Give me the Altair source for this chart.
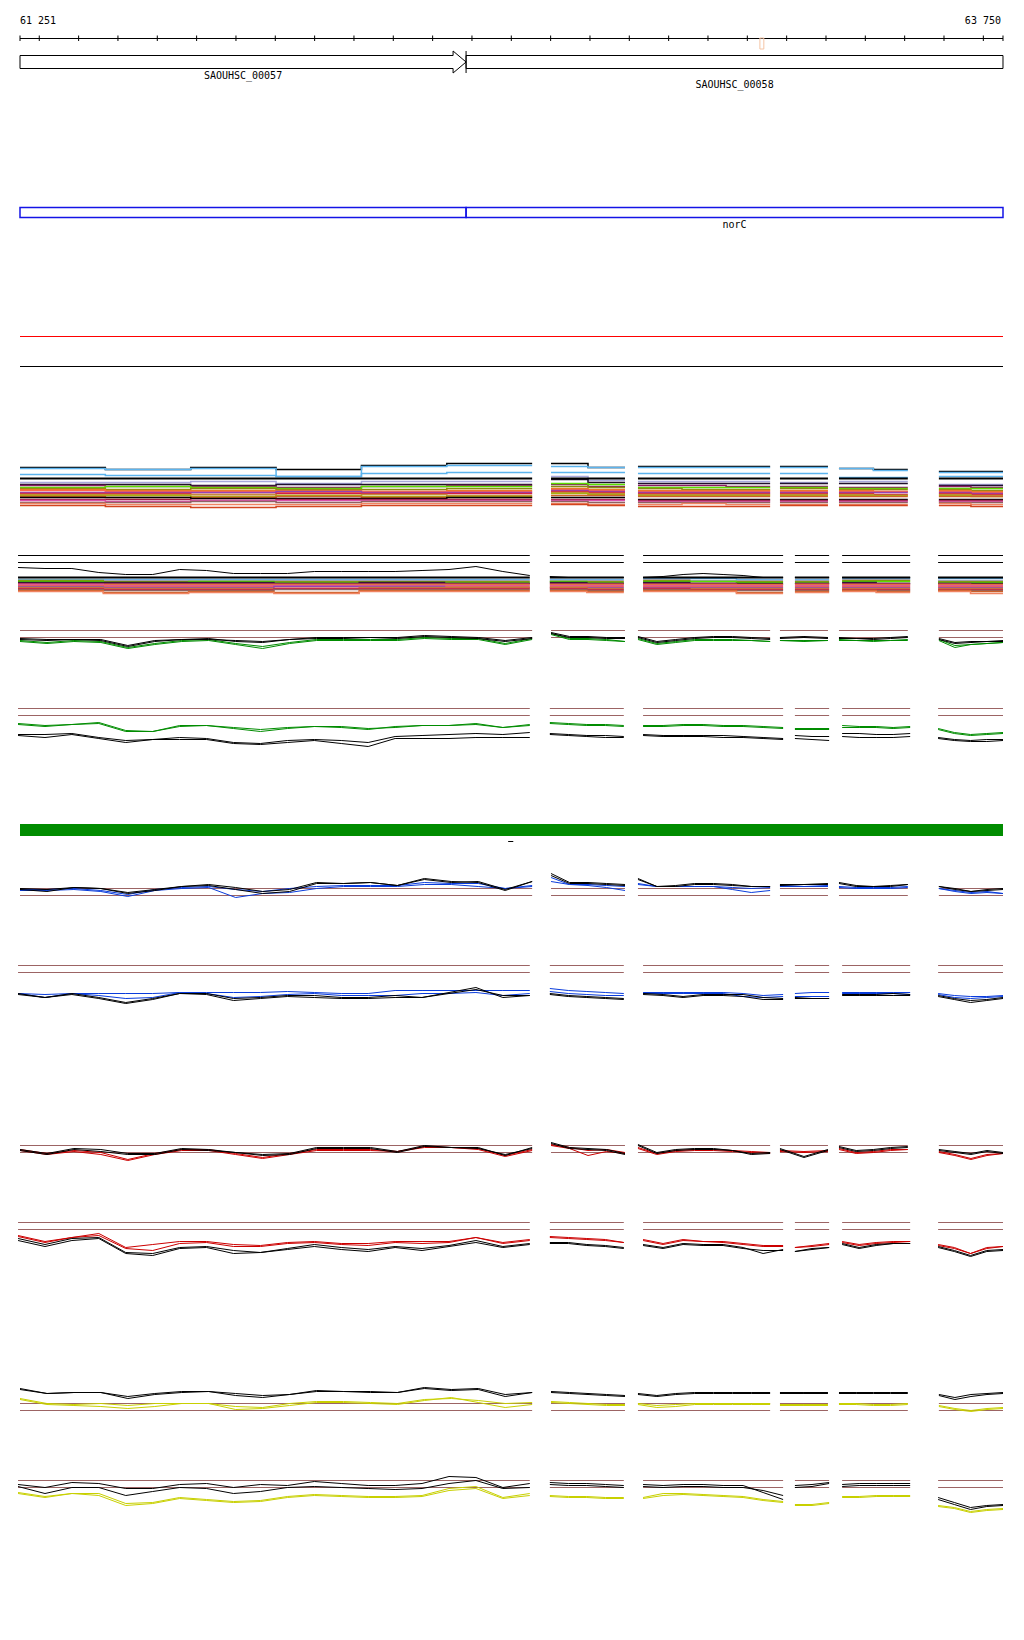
import altair as alt
import numpy as np
import pandas as pd

# ------------------------------------------------------------------ data
VIEW = [61251, 63750]
RULER_TICKS = [61251] + list(range(61300, 63750, 100)) + [63750]

GENE_NAME = ["SAOUHSC_00057", "SAOUHSC_00058"]
GENE_START = [61251, 62385]
GENE_END = [62385, 63750]

NORC_NAME = "norC"
NORC_START = [61251, 62385]
NORC_END = [62385, 63750]

MARKER = [63132, 63142]
DASH = [62492, 62505]

# covered segments (two alternating layouts)
SEG_ODD = [(61251, 62553), (62601, 62789), (62822, 63158), (63183, 63305), (63333, 63508), (63587, 63750)]
SEG_EVEN = [(61246, 62547), (62598, 62786), (62835, 63191), (63221, 63308), (63341, 63514), (63585, 63750)]
N_LINE = [20, 5, 8, 3, 5, 5]
N_STEP = [6, 2, 3, 1, 2, 2]
THRESHOLDS = [0, 7]

# ---- profile tracks (values relative to the lower threshold)
P2_CURVE = [-5,-6,-6,-10,-12,-12,-7,-8,-11,-11,-11,-9,-9,-9,-9,-8,-7,-4,-9,-13,  -14,-15,-15,-15,-15,  -15,-14,-12,-11,-12,-13,-15,-15,  -15,-15,-15,  -15,-15,-15,-15,-15,  -15,-15,-15,-15,-15]

P3_K1 = [-1,-2,-2,-2,-8,-3,-2,-2,-3,-4,-2,0,0,0,0,2,1,0,-3,0,  5,1,1,0,0,  1,-4,-2,0,1,1,0,-1,  0,1,0,  0,-1,-1,0,1,  -1,-5,-4,-4,-3]
P3_K2 = [-2,-3,-2,-3,-9,-4,-2,-1,-4,-5,-2,-1,-1,0,-1,1,0,-1,-4,-1,  4,0,0,-1,-1,  0,-5,-3,-1,0,0,-1,-2,  -1,0,-1,  -1,-1,-2,-1,0,  -2,-6,-5,-4,-4]
P3_C1 = [-3,-5,-3,-4,-10,-6,-3,-2,-6,-9,-5,-2,-2,-2,-2,0,-1,-1,-6,-1,  4,-1,-1,-2,-4,  -1,-6,-4,-2,-2,-2,-3,-4,  -3,-3,-3,  -2,-3,-3,-3,-2,  -2,-8,-7,-6,-5]
P3_C2 = [-4,-6,-4,-5,-11,-7,-4,-3,-7,-11,-6,-3,-3,-3,-3,-1,-2,-2,-7,-2,  3,-2,-2,-3,-4,  -2,-7,-5,-3,-3,-3,-3,-4,  -3,-4,-3,  -3,-3,-4,-3,-3,  -3,-10,-7,-6,-5]

P4_C1 = [-8,-10,-9,-7,-15,-16,-10,-10,-12,-14,-12,-11,-11,-13,-12,-10,-10,-8,-12,-10,  -7,-8,-9,-9,-10,  -10,-10,-9,-9,-10,-10,-11,-12,  -13,-13,-13,  -10,-11,-11,-12,-11,  -13,-17,-19,-18,-17]
P4_C2 = [-9,-11,-9,-8,-16,-16,-11,-10,-13,-16,-13,-11,-12,-14,-11,-10,-10,-9,-12,-9,  -8,-9,-10,-10,-11,  -11,-11,-10,-10,-11,-11,-12,-13,  -14,-14,-14,  -12,-12,-12,-13,-12,  -14,-18,-20,-19,-18]
P4_K1 = [-19,-19,-18,-22,-25,-24,-22,-23,-27,-28,-25,-24,-25,-27,-21,-20,-19,-18,-19,-17,  -18,-19,-20,-20,-21,  -19,-20,-20,-20,-20,-21,-22,-23,  -20,-21,-21,  -18,-18,-19,-19,-18,  -22,-24,-25,-24,-24]
P4_K2 = [-20,-22,-19,-23,-27,-24,-24,-24,-28,-29,-27,-25,-28,-31,-23,-23,-23,-22,-22,-22,  -19,-20,-21,-22,-22,  -20,-21,-21,-21,-22,-22,-23,-24,  -23,-24,-25,  -21,-22,-22,-22,-21,  -23,-25,-26,-26,-25]

P5_K1 = [7,6,8,7,3,6,9,11,8,4,6,13,12,13,10,16,13,14,6,14,  22,13,13,12,11,  17,9,10,12,12,11,9,9,  11,11,12,  13,10,9,10,11,  9,7,4,6,7]
P5_K2 = [6,4,8,7,2,5,9,10,6,2,4,12,12,13,10,17,14,13,5,14,  20,12,12,11,10,  16,9,9,11,11,10,9,9,  10,11,11,  12,9,9,9,11,  9,6,4,5,6]
P5_B1 = [6,6,7,5,1,6,8,9,6,4,7,9,10,10,10,13,12,12,7,9,  14,11,11,10,9,  12,9,9,9,9,8,7,8,  10,9,10,  9,8,8,8,9,  7,5,3,4,2]
P5_B2 = [5,5,6,4,-1,5,7,8,-2,2,3,7,9,9,9,11,11,9,7,10,  18,11,10,8,5,  11,9,9,9,9,6,3,5,  9,9,9,  8,7,7,7,8,  7,4,2,3,2]

P6_B1 = [-21,-22,-21,-21,-21,-21,-20,-20,-20,-20,-19,-20,-21,-21,-18,-18,-18,-18,-18,-18,  -16,-18,-19,-20,-21,  -20,-20,-20,-20,-20,-21,-23,-22,  -21,-20,-20,  -20,-20,-20,-20,-20,  -21,-23,-24,-24,-23]
P6_B2 = [-21,-25,-21,-23,-26,-25,-20,-21,-25,-24,-22,-21,-23,-23,-23,-21,-21,-20,-23,-21,  -19,-21,-22,-23,-23,  -21,-21,-21,-21,-21,-24,-25,-24,  -24,-24,-24,  -21,-21,-21,-21,-22,  -22,-25,-26,-25,-24]
P6_K1 = [-21,-25,-21,-25,-30,-26,-21,-21,-26,-25,-23,-23,-25,-25,-23,-25,-20,-15,-25,-23,  -21,-23,-24,-25,-26,  -21,-22,-24,-22,-22,-22,-25,-26,  -25,-26,-26,  -22,-22,-22,-21,-22,  -23,-26,-28,-27,-25]
P6_K2 = [-22,-25,-22,-26,-31,-27,-21,-22,-28,-26,-24,-25,-26,-26,-25,-25,-21,-17,-23,-23,  -22,-24,-25,-26,-27,  -22,-23,-25,-23,-23,-24,-27,-27,  -26,-26,-26,  -23,-23,-23,-23,-23,  -24,-27,-30,-28,-26]

P7_K1 = [3,-1,4,3,-1,-1,4,3,0,-2,-1,5,5,5,1,7,5,5,-3,5,  10,5,4,3,-1,  8,0,3,4,4,2,-1,0,  4,-4,3,  6,2,3,5,6,  3,1,-1,2,0]
P7_K2 = [2,-2,3,1,-2,-2,3,2,0,-3,-2,4,4,4,0,6,5,4,-2,4,  9,4,3,2,-2,  7,-1,2,3,3,2,-2,-1,  3,-5,2,  5,1,2,4,5,  2,0,-2,1,-1]
P7_R1 = [3,-1,2,0,-7,-1,3,3,-1,-5,-1,3,3,3,1,6,5,4,-3,3,  8,5,2,3,0,  5,-1,2,3,3,2,1,0,  2,1,2,  4,0,1,3,3,  1,-2,-6,-2,-1]
P7_R2 = [2,-2,1,-2,-8,-2,2,2,-2,-6,-2,2,2,2,1,5,5,3,-4,2,  7,4,-3,1,-1,  4,-2,1,2,2,1,0,-1,  1,0,1,  3,-1,0,2,3,  0,-3,-7,-3,-1]

P8_R1 = [-6,-12,-8,-4,-18,-15,-12,-12,-15,-16,-13,-12,-14,-14,-12,-12,-12,-8,-13,-10,  -7,-8,-9,-10,-13,  -10,-14,-10,-12,-12,-14,-16,-16,  -18,-16,-14,  -12,-15,-13,-12,-12,  -15,-18,-24,-18,-17]
P8_R2 = [-7,-13,-8,-6,-19,-21,-14,-13,-17,-17,-14,-13,-15,-16,-13,-14,-13,-8,-14,-11,  -8,-9,-10,-11,-13,  -11,-15,-11,-12,-13,-15,-17,-17,  -18,-17,-15,  -13,-16,-14,-13,-12,  -16,-19,-24,-19,-17]
P8_K1 = [-9,-15,-9,-8,-23,-24,-18,-17,-21,-23,-19,-15,-18,-20,-17,-19,-16,-11,-17,-14,  -13,-13,-15,-16,-18,  -15,-18,-14,-15,-15,-18,-24,-20,  -22,-19,-18,  -14,-18,-15,-14,-14,  -17,-21,-26,-21,-20]
P8_K2 = [-11,-17,-11,-9,-24,-26,-19,-18,-24,-23,-20,-17,-20,-22,-18,-21,-17,-13,-18,-15,  -14,-14,-16,-17,-19,  -16,-19,-15,-16,-16,-19,-21,-21,  -22,-20,-18,  -15,-19,-16,-14,-14,  -18,-22,-27,-22,-21]

P9_K1 = [22,17,18,18,14,17,19,19,17,15,16,20,19,19,18,23,21,22,16,18,  19,18,17,16,15,  17,15,17,18,18,18,18,18,  18,18,18,  18,18,18,18,18,  16,13,16,17,18]
P9_K2 = [21,17,18,18,12,16,18,19,15,13,16,19,19,18,18,22,20,21,14,18,  18,17,16,15,14,  16,14,16,17,17,17,17,17,  17,17,17,  17,17,17,17,17,  15,11,14,16,17]
P9_Y1 = [12,7,6,7,5,7,7,7,4,3,7,9,9,8,7,11,12,10,7,8,  9,8,7,6,6,  7,5,6,7,7,7,7,7,  6,6,6,  7,7,6,6,7,  5,2,0,2,3]
P9_Y2 = [11,6,5,4,2,4,7,7,1,2,5,8,8,7,6,10,13,8,3,6,  8,7,6,5,5,  6,3,4,6,6,6,6,6,  5,5,5,  6,6,5,5,6,  4,1,-1,1,2]

P10_K1 = [3,0,5,4,-1,-1,3,4,0,3,2,6,4,2,2,4,11,10,0,4,  5,4,4,3,2,  3,2,3,3,2,2,-5,-12,  2,3,5,  3,4,4,4,4,  -10,-15,-20,-18,-17]
P10_K2 = [1,-6,0,0,-8,-4,0,-1,-6,-4,0,1,0,-1,-2,-1,4,7,-1,0,  3,2,2,1,0,  1,0,1,1,0,0,-3,-8,  0,1,4,  1,2,2,2,2,  -12,-17,-22,-19,-18]
P10_Y1 = [-5,-9,-6,-6,-16,-15,-10,-12,-14,-13,-9,-7,-8,-9,-9,-8,-1,1,-10,-6,  -8,-9,-9,-10,-10,  -10,-6,-6,-7,-8,-9,-12,-14,  -17,-17,-15,  -9,-9,-8,-8,-8,  -18,-20,-24,-22,-21]
P10_Y2 = [-6,-10,-6,-8,-18,-16,-11,-13,-15,-14,-10,-8,-9,-10,-10,-9,-3,-1,-11,-8,  -9,-10,-10,-11,-11,  -11,-8,-7,-8,-9,-10,-13,-15,  -18,-18,-16,  -10,-10,-9,-9,-9,  -19,-21,-25,-23,-22]

# ---- multi-sample step tracks (one value per block: A x6, B x2, C x3, D x1, E x2, F x2)
P1_STEPS = [
    ("black",     [11, 9, 11, 9, 13, 15,  15, 11,  12, 12, 12,  12,  10, 9,  7, 7]),
    ("sky",       [10, 9, 10, 2, 12, 13,  12, 11,  11, 11, 11,  11,  10, 8,  6, 6]),
    ("sky",       [4, 3, 3, 2, 5, 6,  6, 6,  5, 5, 5,  5,  1, 1,  2, 2]),
    ("lav",       [-4, -4, -3, -5, -3, -3,  2, -2,  -3, -3, -3,  -4,  -3, -3,  -6, -6]),
    ("navy",      [-6, -6, -7, -6, -6, -6,  -1, -4,  -5, -5, -5,  -5,  -5, -5,  -7, -7]),
    ("plum",      [-7, -8, -8, -9, -8, -7,  -6, -8,  -7, -7, -8,  -8,  -9, -9,  -8, -9]),
    ("lime",      [-9, -8, -9, -10, -8, -8,  -5, -6,  -9, -9, -9,  -9,  -10, -10,  -10, -10]),
    ("olive",     [-10, -11, -10, -11, -11, -10,  -8, -9,  -10, -11, -11,  -10,  -11, -11,  -11, -12]),
    ("orange",    [-11, -12, -12, -12, -13, -12,  -10, -11,  -12, -12, -12,  -12,  -12, -13,  -12, -13]),
    ("tomato",    [-12, -13, -13, -14, -13, -13,  -11, -12,  -13, -13, -13,  -13,  -13, -13,  -13, -14]),
    ("purple",    [-14, -14, -14, -13, -14, -14,  -12, -13,  -14, -14, -14,  -14,  -14, -14,  -14, -15]),
    ("crimson",   [-15, -15, -16, -15, -15, -15,  -13, -14,  -15, -15, -15,  -15,  -15, -16,  -15, -16]),
    ("tan",       [-16, -16, -16, -17, -16, -17,  -14, -15,  -16, -16, -16,  -16,  -16, -17,  -16, -17]),
    ("yolive",    [-17, -17, -18, -17, -18, -18,  -15, -16,  -17, -17, -17,  -17,  -17, -17,  -17, -18]),
    ("rust",      [-18, -19, -19, -18, -19, -19,  -17, -17,  -18, -18, -18,  -18,  -18, -18,  -18, -18]),
    ("black",     [-19, -19, -20, -20, -20, -19,  -19, -19,  -21, -21, -21,  -21,  -21, -21,  -21, -21]),
    ("maroon",    [-21, -21, -22, -21, -21, -21,  -21, -21,  -22, -22, -22,  -22,  -22, -22,  -22, -22]),
    ("pink",      [-22, -23, -22, -22, -22, -22,  -22, -22,  -23, -23, -23,  -23,  -23, -23,  -23, -23]),
    ("mauve",     [-24, -24, -23, -24, -23, -23,  -23, -24,  -24, -24, -24,  -24,  -24, -24,  -24, -24]),
    ("salmon",    [-25, -26, -26, -26, -25, -25,  -25, -26,  -26, -25, -26,  -26,  -26, -26,  -25, -26]),
    ("redorange", [-27, -28, -29, -28, -27, -27,  -26, -27,  -28, -28, -28,  -27,  -27, -27,  -27, -28]),
]
P1_FLAT = [0] * 16

P2_STEPS = [
    ("sky",       [-17, -17, -17, -17, -17, -17,  -17, -17,  -16, -16, -17,  -17,  -16, -16,  -16, -16]),
    ("lav",       [-18, -18, -18, -18, -18, -18,  -18, -18,  -17, -18, -18,  -18,  -17, -17,  -18, -18]),
    ("olive",     [-18, -19, -19, -19, -19, -19,  -19, -19,  -18, -19, -19,  -19,  -18, -18,  -19, -19]),
    ("lime",      [-19, -20, -19, -20, -20, -20,  -19, -20,  -19, -19, -20,  -20,  -19, -19,  -20, -20]),
    ("navy",      [-20, -20, -20, -21, -20, -21,  -20, -21,  -20, -21, -21,  -21,  -20, -21,  -21, -21]),
    ("plum",      [-21, -21, -21, -21, -21, -21,  -21, -21,  -21, -21, -22,  -21,  -21, -21,  -21, -22]),
    ("orange",    [-22, -22, -22, -22, -22, -22,  -22, -22,  -22, -22, -22,  -22,  -22, -22,  -22, -22]),
    ("pink",      [-22, -23, -23, -23, -23, -23,  -23, -23,  -23, -23, -23,  -23,  -23, -23,  -23, -23]),
    ("tomato",    [-23, -24, -24, -24, -24, -24,  -24, -24,  -24, -24, -24,  -24,  -24, -24,  -24, -24]),
    ("purple",    [-24, -25, -25, -24, -24, -25,  -25, -25,  -25, -25, -25,  -25,  -25, -25,  -25, -25]),
    ("tan",       [-25, -26, -26, -26, -25, -25,  -25, -26,  -26, -26, -26,  -26,  -26, -26,  -26, -26]),
    ("crimson",   [-26, -27, -27, -26, -26, -26,  -26, -27,  -26, -27, -27,  -27,  -27, -27,  -27, -27]),
    ("mauve",     [-27, -28, -28, -27, -27, -27,  -27, -28,  -27, -28, -28,  -28,  -28, -28,  -28, -28]),
    ("rust",      [-28, -30, -29, -30, -28, -28,  -28, -29,  -28, -28, -30,  -29,  -28, -29,  -28, -29]),
    ("salmon",    [-29, -31, -30, -31, -29, -29,  -29, -30,  -29, -29, -31,  -30,  -29, -30,  -29, -31]),
]
P2_FLAT = [-15] * 16

# ------------------------------------------------------------------ styles / layout
PALETTE = {
    "black": "#000000", "sky": "#5cb4ee", "lav": "#a8a8dc", "navy": "#20102c", "plum": "#8c1c64",
    "lime": "#5ade00", "olive": "#8a8a12", "yolive": "#a8b010", "orange": "#e47c20", "tomato": "#ff6848",
    "purple": "#9444b4", "crimson": "#d42044", "tan": "#c48a3c", "rust": "#cc6028", "maroon": "#981c3c",
    "pink": "#dc50aa", "mauve": "#8e6262", "salmon": "#f08462", "redorange": "#d2441e",
    "green": "#008c00", "blue": "#0a3cdc", "red": "#cc0000", "yellow": "#c8d000",
    "brown": "#9c6464", "norc": "#1414e6", "bar": "#008c00", "marker": "#f5c4a4", "redline": "#ff0000",
}
FONT = "DejaVu Sans Mono"
W, H = 1008, 1624
XS = alt.Scale(domain=[61220.49, 63783.05], nice=False, zero=False)
LY = alt.Scale(domain=[8, 8 + H], range=[0, H], nice=False, zero=False)

LAYOUT = dict(header_y=20.5, ruler_y=38.5, tick_top=35.5, tick_bot=41,
              marker_top=38, marker_bot=49,
              gene_top=55.5, gene_bot=68.5, head_top=51, head_bot=73, head_bp=33,
              gene_label_y=[76, 85], norc_top=207.5, norc_bot=217.5, norc_label_y=224.5,
              red_y=336.5, black_y=366.5, bar_top=824, bar_bot=836, dash_y=841.5)

# panel: (ref pixel of value 0, segments, threshold colour, [(series, colour)], step lines, flat)
PANELS = [
    ("p1", 478.5, SEG_ODD, None, [], P1_STEPS, P1_FLAT),
    ("p2", 562.5, SEG_EVEN, "black", [(P2_CURVE, "black")], P2_STEPS, P2_FLAT),
    ("p3", 637.5, SEG_ODD, "brown", [(P3_C1, "green"), (P3_C2, "green"), (P3_K1, "black"), (P3_K2, "black")], [], None),
    ("p4", 715.5, SEG_EVEN, "brown", [(P4_C1, "green"), (P4_C2, "green"), (P4_K1, "black"), (P4_K2, "black")], [], None),
    ("p5", 895.5, SEG_ODD, "brown", [(P5_B1, "blue"), (P5_B2, "blue"), (P5_K1, "black"), (P5_K2, "black")], [], None),
    ("p6", 972.5, SEG_EVEN, "brown", [(P6_B1, "blue"), (P6_B2, "blue"), (P6_K1, "black"), (P6_K2, "black")], [], None),
    ("p7", 1152.5, SEG_ODD, "brown", [(P7_R1, "red"), (P7_R2, "red"), (P7_K1, "black"), (P7_K2, "black")], [], None),
    ("p8", 1229.5, SEG_EVEN, "brown", [(P8_R1, "red"), (P8_R2, "red"), (P8_K1, "black"), (P8_K2, "black")], [], None),
    ("p9", 1410.5, SEG_ODD, "brown", [(P9_Y1, "yellow"), (P9_Y2, "yellow"), (P9_K1, "black"), (P9_K2, "black")], [], None),
    ("p10", 1487.5, SEG_EVEN, "brown", [(P10_Y1, "yellow"), (P10_Y2, "yellow"), (P10_K1, "black"), (P10_K2, "black")], [], None),
]


def X(f="x"):
    return alt.X(f"{f}:Q", scale=XS, axis=None)


def Y(f="y"):
    return alt.Y(f"{f}:Q", scale=LY, axis=None)


def panel_scale(ref):
    lo, hi = -45, 30
    return alt.Scale(domain=[lo, hi], range=[ref - 8 - lo, ref - 8 - hi], nice=False, zero=False)


def fmt_pos(v):
    return f"{v:,}".replace(",", " ")


layers = []

# ---- header / ruler
layers.append(alt.Chart(pd.DataFrame({"x": [VIEW[0]], "y": [LAYOUT["header_y"]], "t": [fmt_pos(VIEW[0])]}))
              .mark_text(align="left", baseline="middle", font=FONT, fontSize=10, color="black")
              .encode(x=X(), y=Y(), text="t:N"))
layers.append(alt.Chart(pd.DataFrame({"x": [VIEW[1]], "y": [LAYOUT["header_y"]], "t": [fmt_pos(VIEW[1])]}))
              .mark_text(align="right", baseline="middle", font=FONT, fontSize=10, color="black", dx=-2)
              .encode(x=X(), y=Y(), text="t:N"))
layers.append(alt.Chart(pd.DataFrame({"x": [VIEW[0]], "x2": [VIEW[1]], "y": [LAYOUT["ruler_y"]]}))
              .mark_rule(color="black", strokeWidth=1).encode(x=X(), x2="x2:Q", y=Y()))
layers.append(alt.Chart(pd.DataFrame({"x": RULER_TICKS, "y": LAYOUT["tick_top"], "y2": LAYOUT["tick_bot"]}))
              .mark_rule(color="black", strokeWidth=1).encode(x=X(), y=Y(), y2="y2:Q"))
layers.append(alt.Chart(pd.DataFrame({"x": [MARKER[0]], "x2": [MARKER[1]],
                                      "y": [LAYOUT["marker_top"]], "y2": [LAYOUT["marker_bot"]]}))
              .mark_rect(fillOpacity=0, stroke=PALETTE["marker"], strokeWidth=1)
              .encode(x=X(), x2="x2:Q", y=Y(), y2="y2:Q"))

# ---- genes
gs, ge, hb = GENE_START[0], GENE_END[0], LAYOUT["head_bp"]
gt, gb = LAYOUT["gene_top"], LAYOUT["gene_bot"]
gm = (gt + gb) / 2
poly = pd.DataFrame({
    "x": [gs, ge - hb, ge - hb, ge, ge - hb, ge - hb, gs, gs],
    "y": [gt, gt, LAYOUT["head_top"], gm, LAYOUT["head_bot"], gb, gb, gt],
    "o": list(range(8)),
})
layers.append(alt.Chart(poly).mark_line(color="black", strokeWidth=1, strokeJoin="miter")
              .encode(x=X(), y=Y(), order="o:Q"))
layers.append(alt.Chart(pd.DataFrame({"x": [GENE_START[1]], "x2": [GENE_END[1]], "y": [gt], "y2": [gb]}))
              .mark_rect(fillOpacity=0, stroke="black", strokeWidth=1)
              .encode(x=X(), x2="x2:Q", y=Y(), y2="y2:Q"))
layers.append(alt.Chart(pd.DataFrame({"x": [GENE_START[1]], "y": [LAYOUT["head_top"]], "y2": [LAYOUT["head_bot"]]}))
              .mark_rule(color="black", strokeWidth=1).encode(x=X(), y=Y(), y2="y2:Q"))
lab = pd.DataFrame({"x": [(max(s, VIEW[0]) + min(e, VIEW[1])) / 2 for s, e in zip(GENE_START, GENE_END)],
                    "y": LAYOUT["gene_label_y"], "t": GENE_NAME})
layers.append(alt.Chart(lab).mark_text(align="center", baseline="middle", font=FONT, fontSize=10, color="black")
              .encode(x=X(), y=Y(), text="t:N"))

# ---- norC feature
layers.append(alt.Chart(pd.DataFrame({"x": NORC_START, "x2": NORC_END,
                                      "y": LAYOUT["norc_top"], "y2": LAYOUT["norc_bot"]}))
              .mark_rect(fillOpacity=0, stroke=PALETTE["norc"], strokeWidth=1.5)
              .encode(x=X(), x2="x2:Q", y=Y(), y2="y2:Q"))
layers.append(alt.Chart(pd.DataFrame({"x": [(NORC_START[1] + NORC_END[1]) / 2], "y": [LAYOUT["norc_label_y"]],
                                      "t": [NORC_NAME]}))
              .mark_text(align="center", baseline="middle", font=FONT, fontSize=10, color="black")
              .encode(x=X(), y=Y(), text="t:N"))

# ---- separator lines and green bar
layers.append(alt.Chart(pd.DataFrame({"x": [VIEW[0]], "x2": [VIEW[1]], "y": [LAYOUT["red_y"]]}))
              .mark_rule(color=PALETTE["redline"], strokeWidth=1).encode(x=X(), x2="x2:Q", y=Y()))
layers.append(alt.Chart(pd.DataFrame({"x": [VIEW[0]], "x2": [VIEW[1]], "y": [LAYOUT["black_y"]]}))
              .mark_rule(color="black", strokeWidth=1).encode(x=X(), x2="x2:Q", y=Y()))
layers.append(alt.Chart(pd.DataFrame({"x": [VIEW[0]], "x2": [VIEW[1]], "y": [LAYOUT["bar_top"]], "y2": [LAYOUT["bar_bot"]]}))
              .mark_rect(color=PALETTE["bar"]).encode(x=X(), x2="x2:Q", y=Y(), y2="y2:Q"))
layers.append(alt.Chart(pd.DataFrame({"x": [DASH[0]], "x2": [DASH[1]], "y": [LAYOUT["dash_y"]]}))
              .mark_rule(color="black", strokeWidth=1).encode(x=X(), x2="x2:Q", y=Y()))

# ---- profile panels
for pname, ref, segs, thr_col, series, steps, flat in PANELS:
    lin, stp = [], []
    if thr_col:
        for si, (a, b) in enumerate(segs):
            for t in THRESHOLDS:
                for xx in (a, b):
                    lin.append(dict(x=xx, v=t, key=f"{pname}|thr{t}|{si}", c=PALETTE[thr_col], w=1.0))
    for k, (vals, col) in enumerate(series):
        assert len(vals) == sum(N_LINE)
        i = 0
        for si, ((a, b), n) in enumerate(zip(segs, N_LINE)):
            for xx in np.linspace(a, b, n):
                lin.append(dict(x=float(xx), v=vals[i], key=f"{pname}|s{k}|{si}", c=PALETTE[col], w=1.0))
                i += 1
    step_series = [(v, c, 1.5) for c, v in steps]
    if flat is not None:
        step_series.append((flat, "black", 2.0))
    for k, (vals, col, wd) in enumerate(step_series):
        assert len(vals) == sum(N_STEP)
        i = 0
        for si, ((a, b), n) in enumerate(zip(segs, N_STEP)):
            edges = np.linspace(a, b, n + 1)
            for j in range(n):
                stp.append(dict(x=float(edges[j]), v=vals[i + j], key=f"{pname}|st{k:02d}|{si}", c=PALETTE[col], w=wd))
            stp.append(dict(x=float(edges[-1]), v=vals[i + n - 1], key=f"{pname}|st{k:02d}|{si}", c=PALETTE[col], w=wd))
            i += n
    ys = panel_scale(ref)
    if stp:
        layers.append(alt.Chart(pd.DataFrame(stp)).mark_line(interpolate="step-after", strokeCap="butt")
                      .encode(x=X(), y=alt.Y("v:Q", scale=ys, axis=None), detail="key:N",
                              color=alt.Color("c:N", scale=None), strokeWidth=alt.StrokeWidth("w:Q", scale=None)))
    if lin:
        layers.append(alt.Chart(pd.DataFrame(lin)).mark_line(strokeCap="butt")
                      .encode(x=X(), y=alt.Y("v:Q", scale=ys, axis=None), detail="key:N",
                              color=alt.Color("c:N", scale=None), strokeWidth=alt.StrokeWidth("w:Q", scale=None)))

chart = (alt.layer(*layers)
         .resolve_scale(y="independent")
         .properties(width=W, height=H, padding=0, autosize=alt.AutoSizeParams(type="none"),
                     background="white")
         .configure_view(stroke=None))

chart.save("out.html", embed_options={"renderer": "svg", "actions": False})
